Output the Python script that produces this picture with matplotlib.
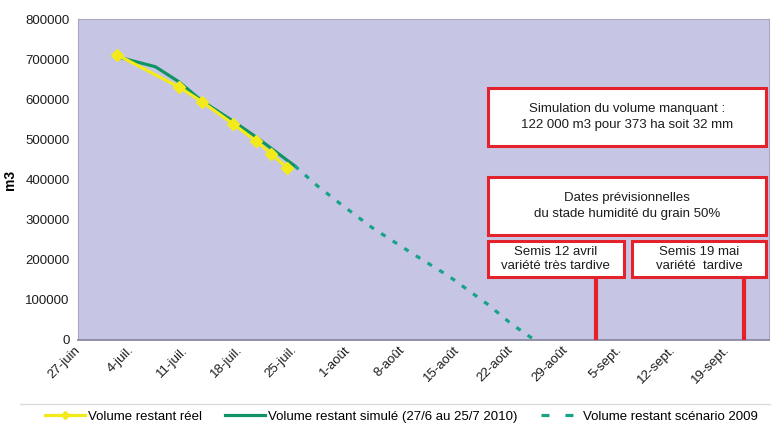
import matplotlib.pyplot as plt
from matplotlib.patches import Rectangle
from matplotlib.lines import Line2D

plt.rcParams['font.family'] = ['Liberation Sans', 'DejaVu Sans']

# jours comptés depuis le 27 juin
jours_ticks = [0, 7, 14, 21, 28, 35, 42, 49, 56, 63, 70, 77, 84]
labels_ticks = ['27-juin', '4-juil.', '11-juil.', '18-juil.', '25-juil.', '1-août',
                '8-août', '15-août', '22-août', '29-août', '5-sept.', '12-sept.', '19-sept.']

jours_reel = [5, 13, 16, 20, 23, 25, 27]
volume_reel = [711000, 631000, 594000, 539000, 496000, 464000, 429000]

jours_simule = [5, 10, 13, 16, 20, 23, 28]
volume_simule = [706000, 681000, 644000, 596000, 546000, 506000, 434000]

jours_scenario = [28, 31, 34, 38, 43, 48, 53, 56, 59]
volume_scenario = [434000, 383000, 338000, 280000, 218000, 158000, 88000, 40000, 0]

# humidité du grain 50% : 2 sept. et 21 sept.
jours_stade = [67, 86]

c_jaune = '#f3ea1c'
c_vert = '#109466'
c_scen = '#17a386'
c_rouge = '#e3222b'

fig = plt.figure(figsize=(7.74, 4.29), dpi=100)
ax = fig.add_axes([0.1008, 0.2075, 0.8928, 0.7482])
ax.set_facecolor('#c6c6e4')

ax.plot(jours_simule, volume_simule, color=c_vert, lw=2.3, zorder=3)
ax.plot(jours_reel, volume_reel, color=c_jaune, lw=2.3, marker='D', ms=6,
        mec=c_jaune, zorder=4)
ax.plot(jours_scenario, volume_scenario, color=c_scen, lw=2.3,
        dashes=(1.6, 2.7), zorder=3)

ax.set_xlim(0, 89.3)
ax.set_ylim(0, 800000)
ax.set_yticks(range(0, 800001, 100000))
ax.set_yticklabels([str(v) for v in range(0, 800001, 100000)])
ax.set_xticks(jours_ticks)
ax.set_xticklabels(labels_ticks, rotation=45, ha='right', rotation_mode='anchor',
                   va='center')
ax.tick_params(axis='both', length=0, labelsize=9.5, colors='#1c1c1c')
ax.tick_params(axis='y', pad=6)
ax.tick_params(axis='x', pad=6)
ax.set_ylabel('m3', fontsize=10, fontweight='bold', labelpad=6)

for side in ['top', 'right', 'left']:
    ax.spines[side].set_color('#a8a8c4')
    ax.spines[side].set_linewidth(0.8)
ax.spines['bottom'].set_color('#8a8aa6')
ax.spines['bottom'].set_linewidth(1.3)

# encadrés
def encadre(x0, y0, x1, y1, texte, interligne):
    ax.add_patch(Rectangle((x0, y0), x1 - x0, y1 - y0, transform=ax.transAxes,
                           facecolor='white', edgecolor=c_rouge, lw=2.2, zorder=5))
    ax.text((x0 + x1) / 2, (y0 + y1) / 2, texte, transform=ax.transAxes,
            ha='center', va='center', fontsize=9.5, color='#1c1c1c',
            linespacing=interligne, zorder=6)

encadre(0.593, 0.604, 0.995, 0.785,
        'Simulation du volume manquant :\n122 000 m3 pour 373 ha soit 32 mm', 1.45)
encadre(0.593, 0.327, 0.995, 0.508,
        'Dates prévisionnelles\ndu stade humidité du grain 50%', 1.4)
encadre(0.593, 0.196, 0.790, 0.308, 'Semis 12 avril\nvariété très tardive', 1.15)
encadre(0.802, 0.196, 0.995, 0.308, 'Semis 19 mai\nvariété  tardive', 1.15)

for j in jours_stade:
    ax.axvline(j, ymin=0, ymax=0.196, color=c_rouge, lw=3, zorder=4)

# séparateur et légende
fig.add_artist(Line2D([0.026, 0.995], [0.058, 0.058], color='#dcdcdc', lw=1))
handles = [
    Line2D([], [], color=c_jaune, lw=2.3, marker='D', ms=4, markevery=[1],
           mec=c_jaune),
    Line2D([], [], color=c_vert, lw=2.3),
    Line2D([], [], color=c_scen, lw=2.3, dashes=(2.5, 5)),
]
noms = ['Volume restant réel', 'Volume restant simulé (27/6 au 25/7 2010)',
        'Volume restant scénario 2009']
fig.legend(handles, noms, loc='center', bbox_to_anchor=(0.519, 0.028), ncol=3,
           frameon=False, fontsize=9.5, handlelength=3, handletextpad=0.2,
           columnspacing=1.8, borderpad=0)

fig.savefig('out.png', dpi=100)
